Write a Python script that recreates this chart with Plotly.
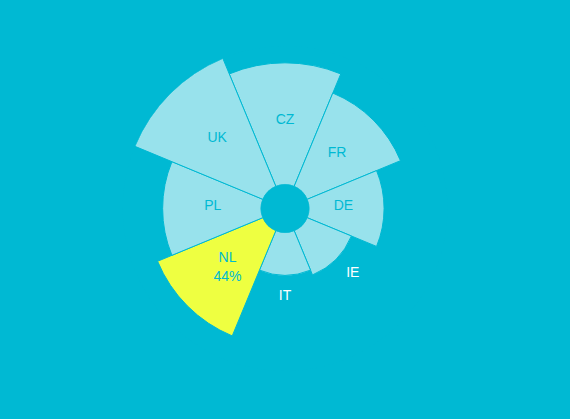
import math
import plotly.graph_objects as go

# values
countries = ['CZ', 'FR', 'DE', 'IE', 'IT', 'NL', 'PL', 'UK']
values = [47, 39, 29, 18.5, 16.5, 44, 38, 53.5]
highlight = 'NL'
highlight_text = '44%'

BG = '#00b9d3'
WEDGE = '#98e2ec'
YELLOW = '#eeff41'

vmax = max(values)
R_PX = 162.5    # outer radius in px
HOLE_PX = 24    # hole radius in px
hole = HOLE_PX / R_PX
step = 360 / len(countries)


def px_to_r(px):
    return (px - HOLE_PX) / (R_PX - HOLE_PX) * vmax


def r_to_px(r):
    return HOLE_PX + (R_PX - HOLE_PX) * r / vmax


colors = [YELLOW if c == highlight else WEDGE for c in countries]

# label placement: inside for big wedges, just outside for small ones,
# single-line labels sit a bit above the radial line
lab_r, lab_theta, lab_text, lab_color = [], [], [], []
for i, (c, v) in enumerate(zip(countries, values)):
    outer = r_to_px(v)
    if outer > 90:
        p = outer * 0.59
        lab_color.append(BG)
    else:
        p = outer + 24
        lab_color.append('white')
    a = math.radians(i * step)
    x = p * math.sin(a)
    y = p * math.cos(a)
    if c == highlight:
        lab_text.append(c + '<br>' + highlight_text)
        y -= 2
    else:
        lab_text.append(c)
        y += 2.5
    lab_r.append(px_to_r(math.hypot(x, y)))
    lab_theta.append(math.degrees(math.atan2(x, y)))

fig = go.Figure()
fig.add_trace(go.Barpolar(
    r=values,
    theta=countries,
    marker=dict(color=colors, line=dict(color=BG, width=1)),
    hoverinfo='skip',
))
fig.add_trace(go.Scatterpolar(
    r=lab_r,
    theta=lab_theta,
    mode='text',
    text=lab_text,
    textfont=dict(color=lab_color, size=14, family='Liberation Sans, Arial'),
    cliponaxis=False,
    hoverinfo='skip',
    subplot='polar2',
))

radial = dict(range=[0, vmax], visible=False, showgrid=False)
full = dict(x=[0, 1], y=[0, 1])
fig.update_layout(
    width=570, height=419,
    margin=dict(l=0, r=0, t=46, b=48),
    paper_bgcolor=BG,
    plot_bgcolor=BG,
    showlegend=False,
    polar=dict(
        domain=full,
        bgcolor=BG,
        hole=hole,
        bargap=0,
        radialaxis=radial,
        angularaxis=dict(rotation=90, direction='clockwise', visible=False,
                         showgrid=False, categoryarray=countries,
                         categoryorder='array'),
    ),
    polar2=dict(
        domain=full,
        bgcolor='rgba(0,0,0,0)',
        hole=hole,
        radialaxis=radial,
        angularaxis=dict(type='linear', rotation=90, direction='clockwise',
                         visible=False, showgrid=False),
    ),
)

fig.write_html("out.html",
               config={'displayModeBar': False},
               post_script="document.body.style.margin='0';"
                           "document.body.style.overflow='hidden';"
                           "document.body.style.background='" + BG + "';")
